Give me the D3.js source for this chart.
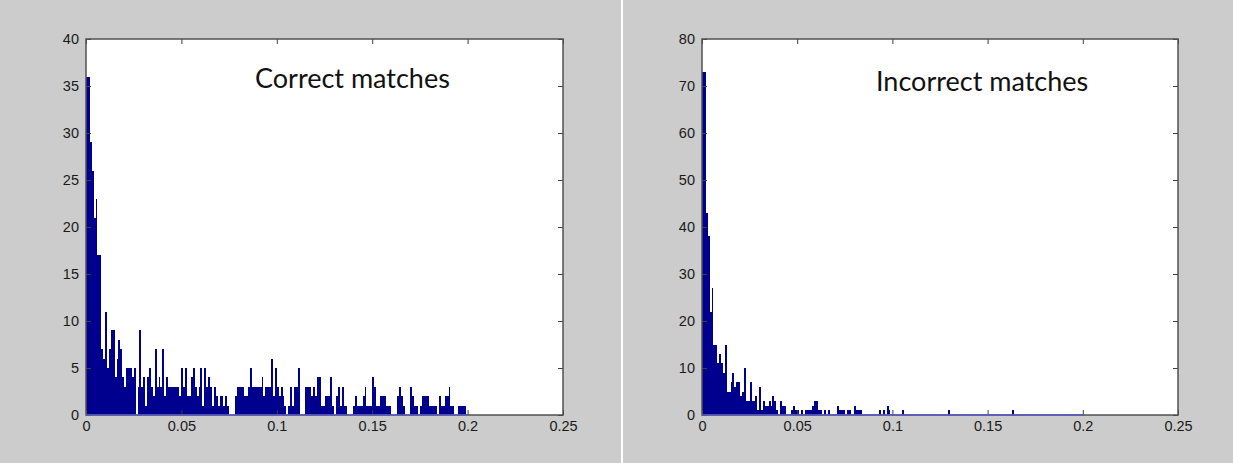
<!DOCTYPE html>
<html>
<head>
<meta charset="utf-8">
<script src="https://cdn.jsdelivr.net/npm/d3@7/dist/d3.min.js"></script>
<style>
  html, body { margin: 0; padding: 0; background: #cccccc; }
  svg { display: block; }
  .tick text { font-family: "Liberation Sans", Arial, sans-serif; font-size: 14.5px; fill: #1a1a1a; }
  .tick line { stroke: #404040; }
</style>
</head>
<body>
<div id="chart"></div>
<script>
// bins of width 0.001 starting at 0
const binWidth = 0.001;

const correctCounts = [
  36, 36, 29, 26, 21, 23, 17, 17, 7, 6,
  11, 5, 7, 9, 9, 4, 6, 8, 7, 4,
  3, 5, 5, 5, 4, 5, 0, 3, 9, 3,
  4, 1, 4, 5, 3, 2, 7, 3, 4, 3,
  7, 2, 4, 3, 3, 3, 3, 3, 3, 2,
  5, 3, 5, 2, 2, 4, 5, 3, 2, 3,
  5, 1, 5, 3, 4, 3, 1, 3, 2, 1,
  2, 2, 1, 2, 1, 0, 0, 0, 2, 3,
  3, 3, 3, 2, 2, 3, 5, 3, 3, 3,
  3, 3, 4, 2, 3, 3, 3, 6, 2, 5,
  3, 2, 3, 2, 1, 0, 1, 3, 1, 3,
  3, 5, 0, 0, 0, 3, 3, 3, 2, 3,
  2, 4, 4, 1, 1, 2, 2, 2, 4, 1,
  0, 2, 3, 1, 3, 1, 1, 0, 0, 0,
  1, 2, 1, 1, 1, 2, 3, 1, 1, 1,
  4, 3, 1, 1, 2, 2, 2, 1, 1, 1,
  0, 0, 0, 2, 3, 2, 1, 0, 0, 0,
  3, 2, 1, 1, 0, 1, 2, 2, 2, 2,
  1, 1, 1, 1, 0, 2, 1, 1, 2, 2,
  3, 1, 1, 0, 0, 1, 1, 1, 1, 0
];

const incorrectCounts = [
  73, 73, 43, 38, 22, 27, 15, 15, 11, 13,
  11, 9, 15, 5, 5, 7, 9, 6, 7, 7,
  4, 5, 10, 3, 3, 7, 3, 3, 4, 1,
  6, 1, 3, 2, 2, 3, 2, 4, 3, 1,
  0, 3, 2, 2, 0, 0, 0, 1, 2, 1,
  1, 0, 1, 0, 1, 1, 1, 1, 2, 3,
  3, 1, 1, 0, 1, 0, 1, 0, 0, 0,
  0, 2, 1, 1, 1, 0, 1, 1, 0, 0,
  2, 1, 1, 1, 0, 0, 0, 0, 0, 0,
  0, 0, 0, 1, 0, 1, 0, 2, 1, 0,
  0, 0, 0, 0, 0, 1, 0, 0, 0, 0,
  0, 0, 0, 0, 0, 0, 0, 0, 0, 0,
  0, 0, 0, 0, 0, 0, 0, 0, 0, 1,
  0, 0, 0, 0, 0, 0, 0, 0, 0, 0,
  0, 0, 0, 0, 0, 0, 0, 0, 0, 0,
  0, 0, 0, 0, 0, 0, 0, 0, 0, 0,
  0, 0, 0, 1, 0, 0, 0, 0, 0, 0,
  0, 0, 0, 0, 0, 0, 0, 0, 0, 0,
  0, 0, 0, 0, 0, 0, 0, 0, 0, 0,
  0, 0, 0, 0, 0, 0, 0, 0, 0, 0
];

const xTicks = [0, 0.05, 0.1, 0.15, 0.2, 0.25];
const xTickLabels = ["0", "0.05", "0.1", "0.15", "0.2", "0.25"];
const correctYTicks = [0, 5, 10, 15, 20, 25, 30, 35, 40];
const incorrectYTicks = [0, 10, 20, 30, 40, 50, 60, 70, 80];

const W = 1233, H = 463;

const svg = d3.select("#chart")
  .append("svg")
  .attr("width", W)
  .attr("height", H);

svg.append("rect")
  .attr("width", W).attr("height", H)
  .attr("fill", "#cccccc");

// white divider between the two figures
svg.append("rect")
  .attr("x", 621).attr("y", 0)
  .attr("width", 2).attr("height", H)
  .attr("fill", "#ffffff");

function drawHist(opts) {
  const x = d3.scaleLinear().domain([0, 0.25]).range([opts.left, opts.right]);
  const y = d3.scaleLinear().domain([0, opts.yMax]).range([opts.bottom, opts.top]);

  const g = svg.append("g");

  g.append("rect")
    .attr("x", opts.left).attr("y", opts.top)
    .attr("width", opts.right - opts.left)
    .attr("height", opts.bottom - opts.top)
    .attr("fill", "#ffffff");

  g.append("g")
    .attr("shape-rendering", "crispEdges")
    .selectAll("rect")
    .data(opts.counts)
    .enter()
    .append("rect")
    .attr("x", (d, i) => Math.round(x(i * binWidth)))
    .attr("y", d => Math.round(y(d)))
    .attr("width", (d, i) => Math.round(x((i + 1) * binWidth)) - Math.round(x(i * binWidth)))
    .attr("height", d => Math.round(y(0)) - Math.round(y(d)))
    .attr("fill", "#00008f");

  // axes, MATLAB style: ticks inside, box on
  const fmt = d => xTickLabels[xTicks.indexOf(d)];

  g.append("g")
    .attr("transform", `translate(0,${opts.bottom})`)
    .call(d3.axisBottom(x).tickValues(xTicks).tickFormat(fmt).tickSize(-5).tickPadding(6))
    .call(a => a.select(".domain").remove());

  g.append("g")
    .attr("transform", `translate(0,${opts.top})`)
    .call(d3.axisTop(x).tickValues(xTicks).tickFormat("").tickSize(-5))
    .call(a => a.select(".domain").remove());

  g.append("g")
    .attr("transform", `translate(${opts.left},0)`)
    .call(d3.axisLeft(y).tickValues(opts.yTicks).tickSize(-5).tickPadding(7))
    .call(a => a.select(".domain").remove());

  g.append("g")
    .attr("transform", `translate(${opts.right},0)`)
    .call(d3.axisRight(y).tickValues(opts.yTicks).tickFormat("").tickSize(-5))
    .call(a => a.select(".domain").remove());

  g.append("rect")
    .attr("x", opts.left).attr("y", opts.top)
    .attr("width", opts.right - opts.left)
    .attr("height", opts.bottom - opts.top)
    .attr("fill", "none")
    .attr("stroke", "#505050")
    .attr("stroke-width", 1.5);

  // zero-height bins still draw their edge along the baseline
  g.append("line")
    .attr("x1", x(0)).attr("x2", x(opts.counts.length * binWidth))
    .attr("y1", y(0)).attr("y2", y(0))
    .attr("stroke", "#5a5ac8")
    .attr("stroke-width", 1.5);

  g.append("text")
    .attr("x", opts.titleX).attr("y", opts.titleY)
    .attr("font-family", "Lato, 'Open Sans', sans-serif")
    .attr("font-size", 27)
    .attr("fill", "#111")
    .text(opts.title);
}

drawHist({
  counts: correctCounts, yMax: 40, yTicks: correctYTicks,
  left: 86, right: 563, top: 39, bottom: 415,
  title: "Correct matches", titleX: 255, titleY: 88
});

drawHist({
  counts: incorrectCounts, yMax: 80, yTicks: incorrectYTicks,
  left: 702, right: 1178, top: 39, bottom: 415,
  title: "Incorrect matches", titleX: 876, titleY: 91
});
</script>
</body>
</html>
